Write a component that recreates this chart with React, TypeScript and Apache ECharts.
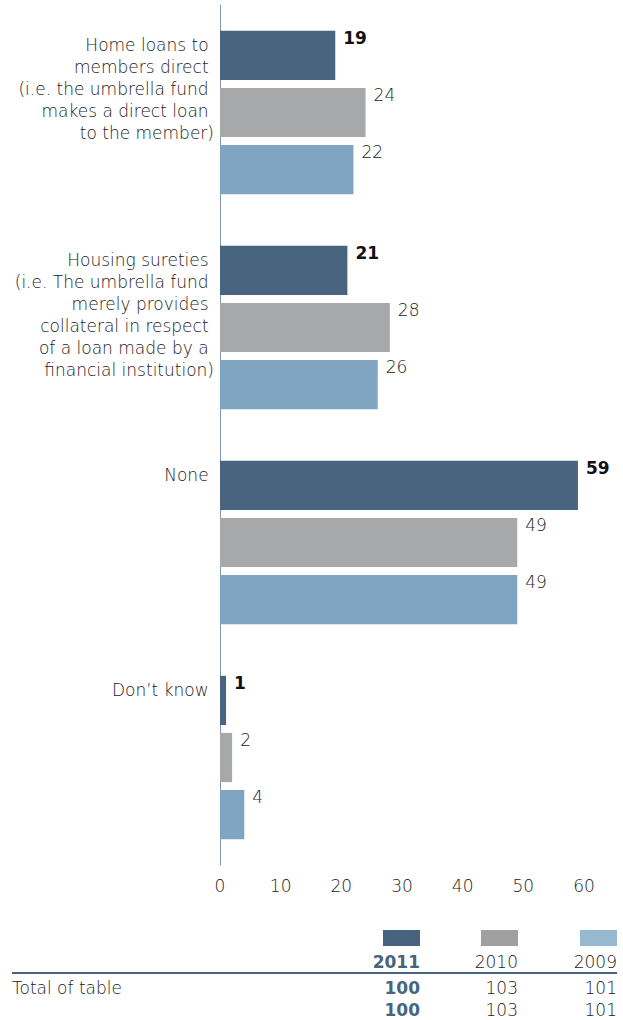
import React, { useEffect, useRef } from "react";
import * as echarts from "echarts";

const categories = [
  "Home loans to \nmembers direct \n(i.e. the umbrella fund \nmakes a direct loan \nto the member)",
  "Housing sureties \n(i.e. The umbrella fund \nmerely provides \ncollateral in respect \nof a loan made by a \nfinancial institution)",
  "None ",
  "Don\u2019t know ",
];
const years = ["2011", "2010", "2009"];
const values2011 = [19, 21, 59, 1];
const values2010 = [24, 28, 49, 2];
const values2009 = [22, 26, 49, 4];
const xTicks = [0, 10, 20, 30, 40, 50, 60];
const totalsRow1 = [100, 103, 101];
const totalsRow2 = [100, 103, 101];

const FONT = "'DejaVu Sans', 'Open Sans', sans-serif";
const LIGHT = 200;
const FS = 17;
const TXT = "#222222";
const barColors = ["#48647E", "#A7A8AA", "#7FA5C3"];
const swatchColors = ["#48637D", "#A0A0A0", "#97B9CF"];

export default function App() {
  const ref = useRef<HTMLDivElement>(null);
  useEffect(() => {
    document.body.style.margin = "0";
    const chart = echarts.init(ref.current!, undefined, { renderer: "svg" });
    const seriesData = [values2011, values2010, values2009];
    const colRight = [420, 518, 617];
    const graphic: any[] = [];
    const cellText = (text: string, x: number, y: number, bold: boolean) => ({
      type: "text",
      x,
      y,
      style: {
        text,
        align: "right",
        verticalAlign: "middle",
        font: `${bold ? 700 : LIGHT} ${FS}px ${FONT}`,
        fill: bold ? "#48647E" : TXT,
      },
    });
    years.forEach((y, i) => {
      graphic.push({
        type: "rect",
        shape: { x: colRight[i] - 37, y: 930, width: 37, height: 16 },
        style: { fill: swatchColors[i] },
      });
      graphic.push(cellText(y, colRight[i], 962, i === 0));
      graphic.push(cellText(String(totalsRow1[i]), colRight[i], 988, i === 0));
      graphic.push(cellText(String(totalsRow2[i]), colRight[i], 1010, i === 0));
    });
    graphic.push({
      type: "line",
      shape: { x1: 12, y1: 973, x2: 617, y2: 973 },
      style: { stroke: "#48647E", lineWidth: 2 },
    });
    graphic.push({
      type: "text",
      x: 12,
      y: 988,
      style: {
        text: "Total of table",
        align: "left",
        verticalAlign: "middle",
        font: `${LIGHT} ${FS}px ${FONT}`,
        fill: TXT,
      },
    });

    chart.setOption({
      animation: false,
      grid: { left: 220, top: 5, width: 364, height: 860, containLabel: false },
      xAxis: {
        type: "value",
        min: 0,
        max: 60,
        interval: 10,
        axisLine: { show: false },
        axisTick: { show: false },
        splitLine: { show: false },
        axisLabel: {
          margin: 12,
          color: TXT,
          fontFamily: FONT,
          fontWeight: LIGHT,
          fontSize: FS,
          formatter: (v: number) => (xTicks.includes(v) ? String(v) : ""),
        },
      },
      yAxis: [
        {
          type: "category",
          inverse: true,
          data: categories,
          axisLine: { show: true, lineStyle: { color: "#7C98B0", width: 1 } },
          axisTick: { show: false },
          axisLabel: { show: false },
        },
        {
          type: "category",
          inverse: true,
          position: "left",
          offset: 0,
          boundaryGap: false,
          data: [...categories, ""],
          axisLine: { show: false },
          axisTick: { show: false },
          axisLabel: {
            interval: 0,
            margin: 6,
            align: "right",
            verticalAlign: "top",
            padding: [29, 0, 0, 0],
            lineHeight: 22,
            color: TXT,
            fontFamily: FONT,
            fontWeight: LIGHT,
            fontSize: FS,
          },
        },
      ],
      series: years.map((y, i) => ({
        type: "bar",
        name: y,
        yAxisIndex: 0,
        data: seriesData[i],
        barGap: "16%",
        barCategoryGap: "24%",
        itemStyle: { color: barColors[i] },
        label: {
          show: true,
          position: ["100%", 0],
          offset: [8, -1],
          align: "left",
          verticalAlign: "top",
          fontFamily: FONT,
          fontSize: FS,
          fontWeight: i === 0 ? 700 : LIGHT,
          color: i === 0 ? "#111111" : TXT,
        },
      })),
      graphic,
    });
    return () => chart.dispose();
  }, []);
  return (
    <div
      ref={ref}
      style={{ position: "absolute", left: 0, top: 0, width: 623, height: 1020 }}
    />
  );
}
